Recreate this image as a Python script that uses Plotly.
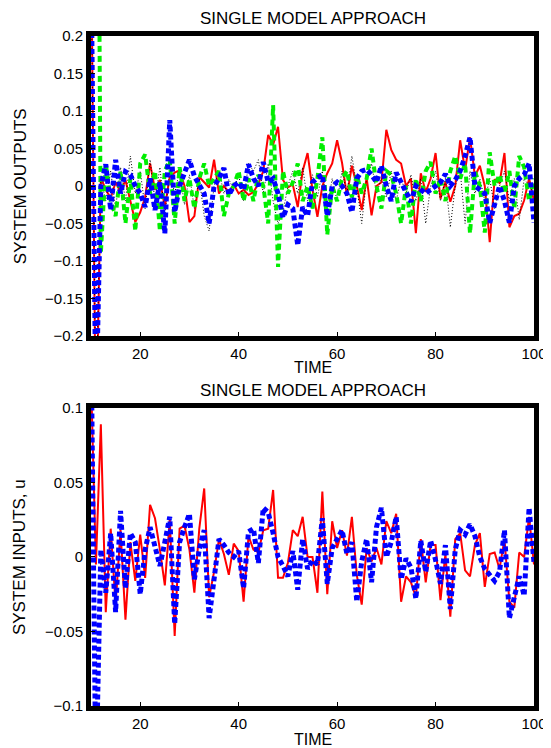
import plotly.graph_objects as go
from plotly.subplots import make_subplots

# time axis, one sample per step
time = list(range(10, 101))

# top panel: system outputs
out_red = [0.35, -0.35, 0.012, -0.005, -0.016, 0.005, -0.008, 0.008, -0.02, -0.048,
           -0.035, -0.015, 0.030, -0.005, 0.008, -0.028, 0.012, 0.018, 0.021, 0.000,
           -0.048, -0.040, 0.012, 0.005, -0.002, 0.035, -0.010, 0.000, -0.008, 0.002,
           -0.010, -0.005, -0.012, -0.008, 0.003, 0.020, 0.068, 0.055, 0.079, 0.008,
           -0.002, 0.002, -0.028, 0.020, 0.044, -0.005, -0.041, 0.000, 0.017, 0.030,
           0.061, 0.031, -0.013, 0.027, 0.000, -0.032, 0.011, -0.039, 0.000, 0.005,
           0.075, 0.048, 0.035, 0.030, 0.000, 0.010, -0.063, 0.017, -0.008, 0.010,
           0.044, -0.017, 0.005, -0.021, 0.000, 0.061, 0.021, 0.065, 0.013, 0.027,
           0.000, -0.075, 0.009, 0.004, 0.044, -0.055, -0.040, -0.037, -0.019, 0.010,
           -0.020]
out_green = [0.6, 1.0, -0.09, 0.03, -0.02, -0.04, 0.02, -0.05, 0.01, -0.06,
             0.03, 0.042, -0.01, 0.02, -0.06, 0.02, 0.035, -0.05, 0.025, -0.02,
             0.01, -0.03, 0.01, 0.03, 0.0, 0.01, 0.02, -0.04, -0.01, 0.0,
             0.02, -0.02, 0.01, -0.02, 0.015, 0.0, -0.05, 0.108, -0.108, 0.02,
             -0.01, 0.005, 0.03, -0.02, 0.0, -0.03, 0.01, 0.065, -0.065, 0.0,
             -0.02, 0.01, 0.02, -0.015, 0.015, -0.01, 0.01, 0.05, 0.0, -0.03,
             0.02, 0.015, -0.01, -0.05, 0.0, -0.05, 0.01, -0.02, 0.02, 0.032,
             -0.01, 0.01, -0.02, 0.02, 0.04, 0.01, 0.03, -0.063, 0.02, 0.0,
             -0.062, 0.045, 0.0, 0.015, -0.01, 0.02, -0.03, 0.04, 0.025, -0.02,
             0.01]
out_blue = [0.3, -0.3, 0.0, 0.029, -0.032, 0.035, -0.01, 0.019, 0.015, 0.0,
            -0.01, -0.028, 0.01, -0.032, 0.005, -0.063, 0.088, -0.035, 0.0, 0.02,
            0.035, 0.013, 0.0, -0.01, -0.05, 0.0, 0.01, 0.024, -0.012, 0.0,
            0.005, -0.005, 0.029, 0.01, 0.0, 0.032, 0.005, 0.01, -0.01, -0.042,
            -0.025, -0.03, -0.079, -0.028, -0.04, 0.005, 0.011, 0.015, -0.04, 0.0,
            0.005, 0.0, -0.01, -0.035, 0.01, 0.02, 0.022, 0.015, 0.005, 0.027,
            0.0, -0.02, 0.018, 0.005, -0.005, -0.021, 0.0, -0.005, -0.01, -0.005,
            0.0, 0.005, 0.016, 0.0, 0.008, 0.02, 0.04, 0.065, 0.0, -0.005,
            -0.01, -0.049, -0.027, 0.0, -0.02, -0.049, 0.0, 0.01, 0.015, 0.03,
            -0.049]
out_black = [0.3, -0.3, 0.01, -0.02, 0.02, -0.03, 0.025, -0.02, 0.04, -0.01,
             0.02, -0.03, 0.035, -0.02, 0.025, -0.04, 0.02, -0.01, 0.02, -0.025,
             0.015, -0.03, 0.01, -0.04, -0.06, 0.0, 0.02, -0.01, 0.009, -0.005,
             0.015, -0.02, 0.03, 0.02, 0.035, -0.01, 0.03, -0.02, -0.05, -0.035,
             0.0, 0.02, -0.01, 0.025, -0.02, 0.015, -0.015, 0.02, -0.03, 0.01,
             -0.02, 0.02, -0.01, 0.04, 0.0, -0.05, 0.01, 0.03, -0.01, 0.01,
             -0.015, 0.02, -0.02, 0.01, -0.01, 0.015, -0.02, 0.01, -0.05, 0.0,
             0.02, -0.02, 0.01, -0.055, 0.0, 0.02, -0.05, 0.02, -0.01, 0.01,
             -0.02, 0.01, -0.03, 0.0, 0.02, -0.02, 0.01, -0.045, 0.01, 0.0,
             -0.01]

# bottom panel: system inputs
in_red = [0.12, -0.005, 0.089, -0.037, 0.019, -0.032, 0.018, -0.042, 0.010, -0.016,
          0.015, -0.014, 0.035, 0.026, 0.005, -0.019, 0.025, -0.053, 0.019, 0.021,
          0.005, -0.024, 0.019, 0.046, -0.027, -0.010, 0.012, 0.002, -0.012, 0.009,
          0.004, -0.030, 0.014, 0.005, 0.003, 0.018, 0.019, 0.045, -0.014, -0.014,
          -0.004, 0.018, 0.014, 0.027, 0.000, 0.000, -0.024, 0.044, -0.025, 0.024,
          0.006, 0.018, 0.001, 0.027, -0.012, -0.032, 0.006, -0.003, 0.006, -0.005,
          0.024, 0.016, 0.029, -0.030, -0.013, -0.017, -0.027, 0.012, -0.017, 0.008,
          0.008, -0.029, 0.002, -0.040, 0.012, 0.016, -0.009, -0.013, 0.008, 0.016,
          -0.020, 0.002, 0.003, -0.008, 0.012, -0.030, -0.034, 0.003, 0.000, 0.027,
          -0.005]
in_blue = [0.15, -0.15, 0.005, -0.024, 0.016, -0.037, 0.031, -0.021, 0.016, 0.010,
           -0.025, 0.005, 0.020, 0.008, -0.006, 0.010, 0.027, -0.045, 0.010, 0.020,
           0.029, -0.015, 0.005, 0.018, -0.041, -0.015, 0.012, 0.008, 0.003, 0.000,
           0.004, -0.021, 0.017, 0.019, -0.004, 0.033, 0.030, 0.016, 0.000, -0.006,
           -0.013, 0.004, -0.022, 0.012, -0.008, -0.002, -0.005, 0.026, -0.018, 0.006,
           0.012, 0.018, 0.002, 0.010, -0.030, -0.003, 0.012, -0.017, 0.020, 0.033,
           0.000, 0.010, 0.027, -0.015, -0.001, -0.007, -0.028, 0.011, -0.010, 0.011,
           -0.002, -0.018, 0.008, -0.035, 0.005, 0.018, 0.015, 0.022, 0.014, 0.000,
           -0.008, -0.012, -0.016, -0.010, 0.018, -0.041, -0.026, -0.013, -0.026, 0.033,
           -0.004]

x_ticks = [20, 40, 60, 80, 100]
y_top_ticks = [-0.2, -0.15, -0.1, -0.05, 0, 0.05, 0.1, 0.15, 0.2]
y_top_text = ["\u22120.2", "\u22120.15", "\u22120.1", "\u22120.05", "0", "0.05", "0.1", "0.15", "0.2"]
y_bot_ticks = [-0.1, -0.05, 0, 0.05, 0.1]
y_bot_text = ["\u22120.1", "\u22120.05", "0", "0.05", "0.1"]

FONT = "Liberation Sans, Arial, sans-serif"

fig = make_subplots(rows=2, cols=1, vertical_spacing=0.1074)

# top panel traces
fig.add_trace(go.Scatter(x=time, y=out_red, mode="lines",
                         line=dict(color="#ff0000", width=2)), row=1, col=1)
fig.add_trace(go.Scatter(x=time, y=out_black, mode="lines",
                         line=dict(color="#000000", width=1, dash="1px,2px")), row=1, col=1)
fig.add_trace(go.Scatter(x=time, y=out_green, mode="lines",
                         line=dict(color="#00ee00", width=4, dash="6px,4px")), row=1, col=1)
fig.add_trace(go.Scatter(x=time, y=out_blue, mode="lines",
                         line=dict(color="#0000ff", width=5, dash="5px,3px")), row=1, col=1)

# bottom panel traces
fig.add_trace(go.Scatter(x=time, y=in_red, mode="lines",
                         line=dict(color="#ff0000", width=2)), row=2, col=1)
fig.add_trace(go.Scatter(x=time, y=in_blue, mode="lines",
                         line=dict(color="#0000ff", width=5, dash="5px,3px")), row=2, col=1)

axis_style = dict(showline=True, mirror=True, linecolor="black", linewidth=5,
                  ticks="inside", ticklen=4, tickwidth=1, tickcolor="black",
                  showgrid=False, zeroline=False,
                  tickfont=dict(family=FONT, size=15, color="black"))

fig.update_xaxes(range=[10, 100], tickvals=x_ticks, **axis_style)
fig.update_yaxes(range=[-0.2, 0.2], tickvals=y_top_ticks, ticktext=y_top_text,
                 row=1, col=1, **axis_style)
fig.update_yaxes(range=[-0.1, 0.1], tickvals=y_bot_ticks, ticktext=y_bot_text,
                 row=2, col=1, **axis_style)
fig.update_layout(yaxis=dict(domain=[0.5522, 1.0]), yaxis2=dict(domain=[0.0, 0.4448]))

txt = dict(family=FONT, size=17, color="black")
notes = [
    ("SINGLE MODEL APPROACH", 0.5, 1.0262, 0, 17),
    ("TIME", 0.5, 0.5045, 0, 16),
    ("SINGLE MODEL APPROACH", 0.5, 0.4716, 0, 17),
    ("TIME", 0.5, -0.0500, 0, 16),
    ("SYSTEM OUTPUTS", -0.16, 0.776, -90, 17),
    ("SYSTEM INPUTS, u", -0.16, 0.2224, -90, 17),
]
for text, x, y, ang, size in notes:
    fig.add_annotation(text=text, x=x, y=y, xref="paper", yref="paper",
                       showarrow=False, textangle=ang,
                       font=dict(family=FONT, size=size, color="black"),
                       xanchor="center", yanchor="middle")

# the page adds an 8px body margin, so shift the figure up/left to compensate
fig.update_layout(width=551, height=748, showlegend=False,
                  margin=dict(l=83, r=25, t=28, b=50),
                  plot_bgcolor="white", paper_bgcolor="white")

fig.write_html("out.html")
